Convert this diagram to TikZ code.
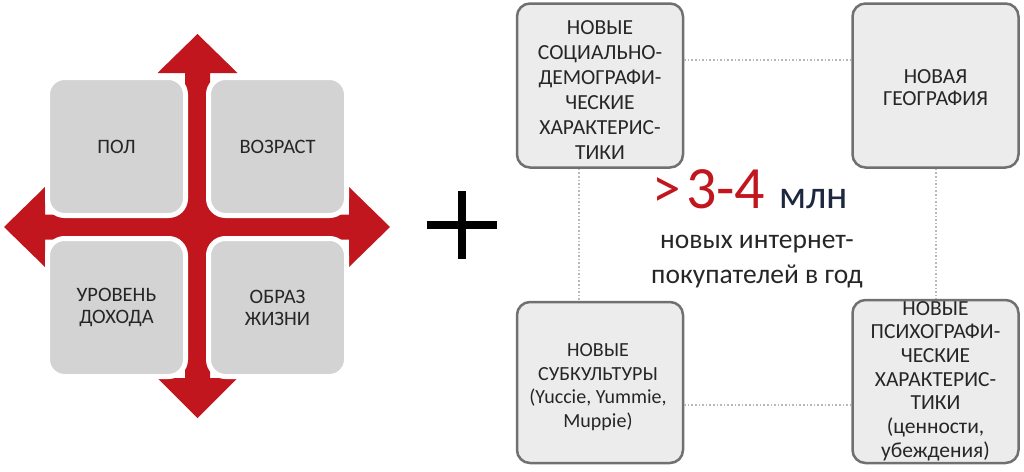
\documentclass[tikz,border=0pt]{standalone}
\usepackage{fontspec}
\setmainfont{Carlito}
\definecolor{crossred}{HTML}{C1161E}
\definecolor{lboxfill}{HTML}{D3D3D3}
\definecolor{rboxfill}{HTML}{ECECEC}
\definecolor{rboxline}{HTML}{707070}
\definecolor{dotgray}{HTML}{B8B8B8}
\definecolor{txt}{HTML}{262626}
\definecolor{navy}{HTML}{1E2740}
\begin{document}
\begin{tikzpicture}[x=1pt,y=-1pt,
  lbox/.style={draw=white,line width=5pt,fill=lboxfill,rounded corners=17pt,
    minimum width=138pt,minimum height=138pt,inner sep=0pt,align=center,
    text=txt,font=\fontsize{20.5}{22}\selectfont},
  rbox/.style={draw=rboxline,line width=2.5pt,fill=rboxfill,rounded corners=13pt,
    minimum width=166pt,minimum height=164pt,inner sep=0pt},
  rtext/.style={align=center,text=txt,inner sep=0pt,font=\fontsize{21.5}{25}\selectfont},
  dotline/.style={draw=dotgray,line width=1.6pt,dotted}
]
\useasboundingbox (0,0) rectangle (1024,471);
% red cross
\fill[crossred] (197.5,34) -- (237.5,73) -- (210,73) -- (210,214.5) -- (349,214.5) -- (349,187)
  -- (390,227) -- (349,267) -- (349,239.5) -- (210,239.5) -- (210,378) -- (237.5,378)
  -- (197.5,418) -- (157.5,378) -- (185,378) -- (185,239.5) -- (45,239.5) -- (45,267)
  -- (4,227) -- (45,187) -- (45,214.5) -- (185,214.5) -- (185,73) -- (157.5,73) -- cycle;
\fill[crossred] (165,195) rectangle (230,260);
\node[lbox] (pol) at (116.5,146.5) {ПОЛ};
\node[lbox] (voz) at (277.5,146.5) {ВОЗРАСТ};
\node[lbox] (dox) at (116.5,307.5) {УРОВЕНЬ\\ДОХОДА};
\node[lbox] (obr) at (277.5,307.5) {ОБРАЗ\\ЖИЗНИ};
% plus
\fill[black] (427,221) rectangle (497,229);
\fill[black] (458,191) rectangle (466,259);
% right boxes
\node[rbox] (tl) at (600,85.5) {};
\node[rbox] (tr) at (935.5,85.5) {};
\node[rbox,minimum height=161pt] (bl) at (600,382.5) {};
\node[rbox,minimum height=163pt] (br) at (935.5,381.5) {};
\draw[dotline] (tl.east |- 0,60) -- (tr.west |- 0,60);
\draw[dotline] (bl.east |- 0,405) -- (br.west |- 0,405);
\draw[dotline] (tl.south -| 579,0) -- (bl.north -| 579,0);
\draw[dotline] (tr.south -| 936,0) -- (br.north -| 936,0);
\node[rtext] (tlt) at (600,90) {НОВЫЕ\\СОЦИАЛЬНО-\\ДЕМОГРАФИ-\\ЧЕСКИЕ\\ХАРАКТЕРИС-\\ТИКИ};
\node[rtext,font=\fontsize{21.5}{22}\selectfont] (trt) at (935.5,88) {НОВАЯ\\ГЕОГРАФИЯ};
\node[rtext,font=\fontsize{20}{23.5}\selectfont] (blt) at (598,387) {НОВЫЕ\\СУБКУЛЬТУРЫ\\(Yuccie, Yummie,\\Muppie)};
\node[rtext,font=\fontsize{21.5}{23.7}\selectfont] (brt) at (935.5,381) {НОВЫЕ\\ПСИХОГРАФИ-\\ЧЕСКИЕ\\ХАРАКТЕРИС-\\ТИКИ\\(ценности,\\убеждения)};
% center text
\node[anchor=base west,inner sep=0pt,text=crossred,font=\fontsize{57}{57}\selectfont] (gt) at (652,207) {>};
\node[anchor=base west,inner sep=0pt,text=crossred,font=\fontsize{60}{60}\selectfont] (num) at (686,208) {3-4};
\node[anchor=base west,inner sep=0pt,text=navy,font=\fontsize{40}{40}\selectfont] (mln) at (779,208) {млн};
\node[align=center,inner sep=0pt,text=txt,font=\fontsize{27.5}{35}\selectfont] (sub) at (757,262) {новых интернет-\\покупателей в год};
\end{tikzpicture}
\end{document}
